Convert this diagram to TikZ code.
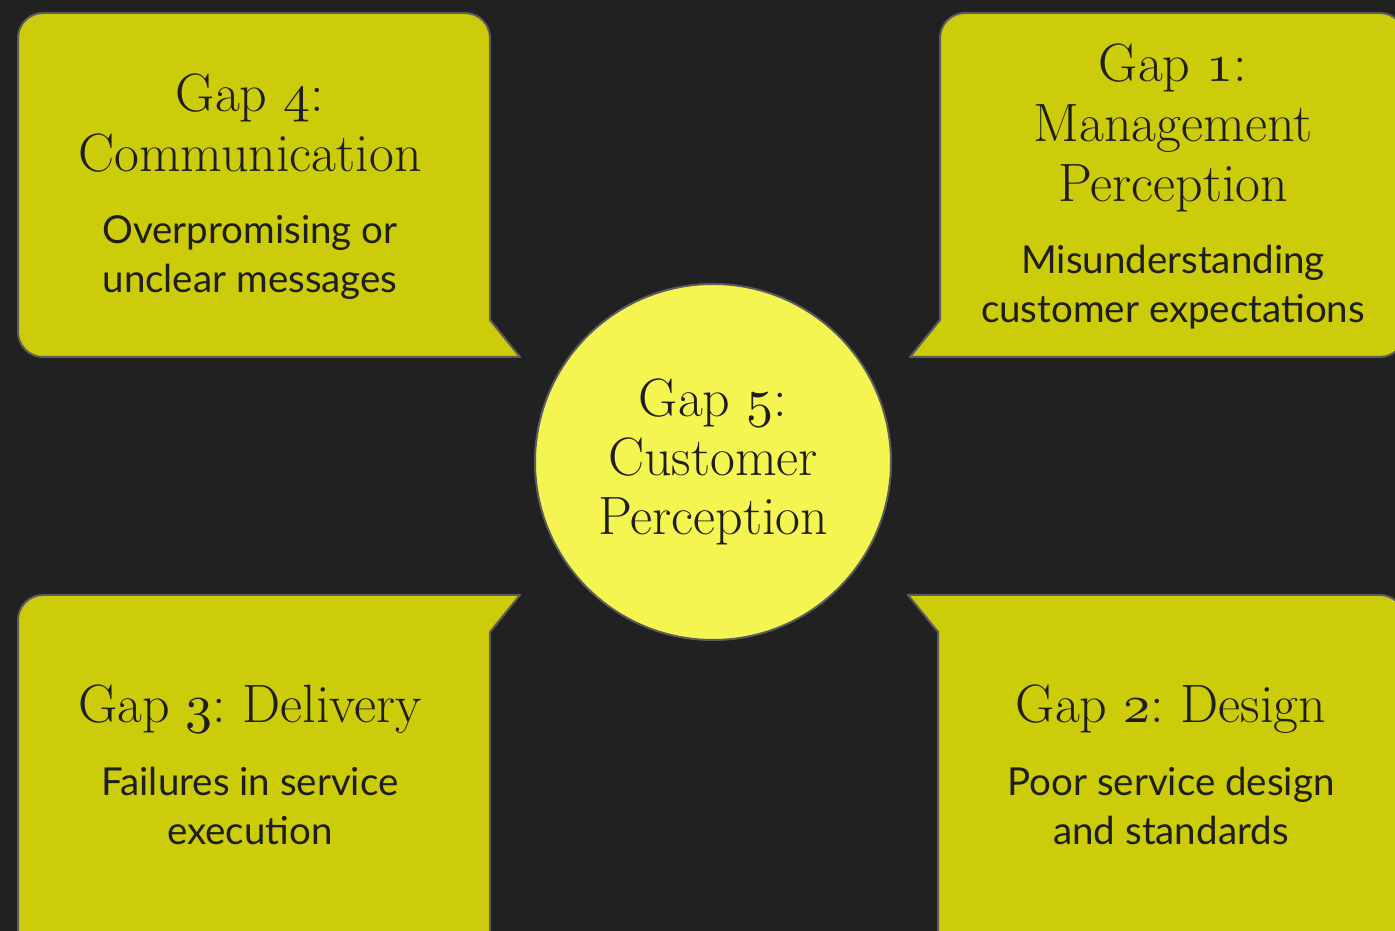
\documentclass[tikz,border=0pt]{standalone}
\usepackage{fontspec}
\newfontfamily\notefont{Lato}
\usetikzlibrary{positioning}
\frenchspacing

\definecolor{bgdark}{HTML}{212121}
\definecolor{gapfill}{HTML}{CCCC0A}
\definecolor{corefill}{HTML}{F5F552}
\definecolor{edgegray}{HTML}{5C5C5C}
\definecolor{inkdark}{HTML}{1E1E1E}

% old style figures for the gap numbers, scalable to any size
\DeclareFontFamily{OML}{gapfig}{\skewchar\font=127}
\DeclareFontShape{OML}{gapfig}{m}{it}{<-> cmmi10}{}
\newcommand{\gapnum}[1]{{\usefont{OML}{gapfig}{m}{it}#1}}

\begin{document}
\begin{tikzpicture}[x=1pt,y=1pt,
    gapbox/.style={fill=gapfill, draw=edgegray, line width=2pt, line join=round},
    corecircle/.style={circle, fill=corefill, draw=edgegray, line width=2pt,
        minimum size=356pt, inner sep=0pt, align=center, text=inkdark,
        font=\fontsize{54}{59}\selectfont},
    gaptitle/.style={anchor=base, inner sep=0pt, align=center, text=inkdark,
        font=\fontsize{54}{60}\selectfont},
    gapnote/.style={anchor=base, inner sep=0pt, align=center, text=inkdark,
        font=\notefont\fontsize{38.5}{49}\selectfont}]
    \fill[bgdark] (0,0) rectangle (1395,931);
    \useasboundingbox (0,0) rectangle (1395,931);
    \begin{scope}
        \clip (0,0) rectangle (1395,931);
        % callouts, each with its tab pointing at the middle
        \draw[gapbox] (18,750) [rounded corners=25pt] -- (18,918) -- (490,918)
            [sharp corners] -- (490,611) -- (520,574) [rounded corners=25pt] -- (18,574)
            [sharp corners] -- cycle;
        \draw[gapbox] (1405,750) [rounded corners=25pt] -- (1405,918) -- (940,918)
            [sharp corners] -- (940,611) -- (910,574) [rounded corners=25pt] -- (1405,574)
            [sharp corners] -- cycle;
        \draw[gapbox] (490,150) -- (490,299) -- (520,336) [rounded corners=25pt] -- (18,336)
            [sharp corners] -- (18,-40) -- (490,-40) -- cycle;
        \draw[gapbox] (938,150) -- (938,299) -- (908,336) [rounded corners=25pt] -- (1405,336)
            -- (1405,-40) [sharp corners] -- (938,-40) -- cycle;
    \end{scope}

    \node[corecircle] (core) at (713,469) {Gap \gapnum{5}:\\Customer\\Perception};

    % base anchor sits on the last line
    \node[gaptitle] (title4) at (250,759) {Gap \gapnum{4}:\\Communication};
    \node[gapnote] (note4) at (250,638) {Overpromising or\\unclear messages};

    \node[gaptitle] (title1) at (1173,729) {Gap \gapnum{1}:\\Management\\Perception};
    \node[gapnote] (note1) at (1173,608) {Misunderstanding\\customer expectations};

    \node[gaptitle] (title3) at (250,208) {Gap \gapnum{3}: Delivery};
    \node[gapnote] (note3) at (250,86) {Failures in service\\execution};

    \node[gaptitle] (title2) at (1171,208) {Gap \gapnum{2}: Design};
    \node[gapnote] (note2) at (1171,86) {Poor service design\\and standards};
\end{tikzpicture}
\end{document}
